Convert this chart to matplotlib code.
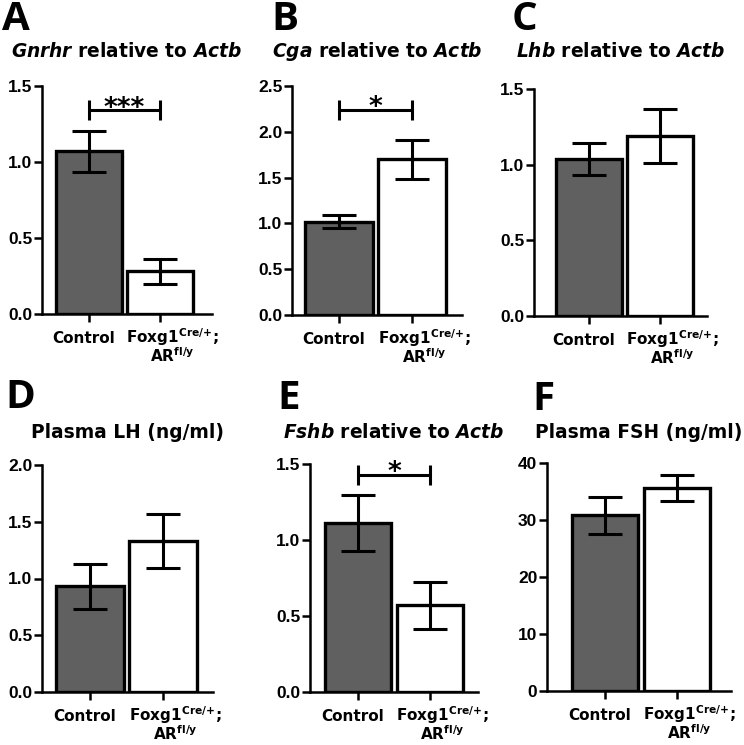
import numpy as np
import matplotlib
matplotlib.use("Agg")
import matplotlib.pyplot as plt

plt.rcParams['font.family'] = 'DejaVu Sans'
plt.rcParams['font.weight'] = 'bold'
plt.rcParams['mathtext.fontset'] = 'custom'
plt.rcParams['mathtext.rm'] = 'DejaVu Sans:bold'
plt.rcParams['mathtext.bf'] = 'DejaVu Sans:bold'
plt.rcParams['mathtext.it'] = 'DejaVu Sans:italic:bold'
plt.rcParams['mathtext.bfit'] = 'DejaVu Sans:italic:bold'

# data
groups = ['Control', 'Foxg1$^{\\mathbf{Cre/{+}}}$;\nAR$^{\\mathbf{fl/y}}$']
letters = ['A', 'B', 'C', 'D', 'E', 'F']
titles = [
    r'$\mathbfit{Gnrhr}$ relative to $\mathbfit{Actb}$',
    r'$\mathbfit{Cga}$ relative to $\mathbfit{Actb}$',
    r'$\mathbfit{Lhb}$ relative to $\mathbfit{Actb}$',
    'Plasma LH (ng/ml)',
    r'$\mathbfit{Fshb}$ relative to $\mathbfit{Actb}$',
    'Plasma FSH (ng/ml)',
]
means = [[1.07, 0.28], [1.02, 1.70], [1.04, 1.19], [0.93, 1.33], [1.11, 0.57], [30.8, 35.6]]
sems = [[0.135, 0.08], [0.07, 0.21], [0.105, 0.18], [0.20, 0.24], [0.185, 0.155], [3.2, 2.35]]
ytops = [1.5, 2.5, 1.5, 2.0, 1.5, 40]
ysteps = [0.5, 0.5, 0.5, 0.5, 0.5, 10]
sig_labels = ['***', '*', None, None, '*', None]
sig_heights = [1.34, 2.24, None, None, 1.43, None]

# layout in pixels: left, right, top, bottom of axes; x tick pixel positions
W, H = 744, 745
boxes = [(42, 212, 86, 314), (292, 462, 86, 315), (534, 707, 89, 316),
         (42, 213, 465, 692), (310, 478, 464, 692), (547, 731, 463, 691)]
tickpx = [(89, 160), (339, 412), (589, 660), (90, 163), (358, 430), (605, 677)]
letter_pos = [(2, 30), (271, 30), (512, 30), (5, 408), (277, 409), (532, 410)]
title_base = [57, 57, 57, 438, 438, 438]
label_dx = [-4, 9]   # points, label shift from tick
pt = 72 / 100        # points per pixel

fig = plt.figure(figsize=(W / 100, H / 100), dpi=100)
bar_colors = ['#606060', 'white']

for i in range(6):
    l, r, t, b = boxes[i]
    ax = fig.add_axes([l / W, 1 - b / H, (r - l) / W, (b - t) / H])
    x0, x1 = tickpx[i]
    unit = x1 - x0
    ax.set_xlim((l - x0) / unit, 1 + (r - x1) / unit)
    ax.set_ylim(0, ytops[i])
    x = np.arange(2)
    ax.bar(x, means[i], width=0.92, color=bar_colors, edgecolor='black',
           linewidth=2.4, zorder=2)
    ax.errorbar(x, means[i], yerr=sems[i], fmt='none', ecolor='black',
                elinewidth=2.2, capsize=12.5, capthick=2.2, zorder=3)
    if sig_labels[i]:
        ax.errorbar(0.5, sig_heights[i], xerr=0.5, fmt='none', ecolor='black',
                    elinewidth=2.2, capsize=7, capthick=2.2, zorder=3)
        ax.annotate(sig_labels[i], (0.5, sig_heights[i]), xytext=(0, -4),
                    textcoords='offset points', ha='center', va='baseline',
                    fontsize=19, fontweight='bold')
    ax.set_xticks(x)
    ax.set_xticklabels([])
    for k, g in enumerate(groups):
        for j, line in enumerate(g.split('\n')):
            ax.annotate(line, (x[k], 0), xycoords=('data', 'axes fraction'),
                        xytext=(label_dx[k], -(29 + 19 * j) * pt),
                        textcoords='offset points', ha='center', va='baseline',
                        fontsize=11, fontweight='bold')
    yt = np.arange(0, ytops[i] + 1e-9, ysteps[i])
    ax.set_yticks(yt)
    if ysteps[i] >= 1:
        labels = ['%d' % v for v in yt]
    else:
        labels = ['%.1f' % v for v in yt]
    ax.set_yticklabels(labels, fontsize=12.5, fontweight='bold',
                       family='Liberation Sans')
    for s in ['top', 'right']:
        ax.spines[s].set_visible(False)
    for s in ['left', 'bottom']:
        ax.spines[s].set_linewidth(1.8)
    ax.tick_params(axis='y', length=6, width=1.8, pad=1)
    ax.tick_params(axis='x', length=6, width=1.8)
    fig.text((l + r) / 2 / W, 1 - title_base[i] / H, titles[i], ha='center',
             va='baseline', fontsize=13.4, fontweight='bold')
    lx, ly = letter_pos[i]
    fig.text(lx / W, 1 - ly / H, letters[i], ha='left', va='baseline',
             fontsize=29, fontweight='bold', family='Open Sans')

fig.savefig('out.png', dpi=100)
